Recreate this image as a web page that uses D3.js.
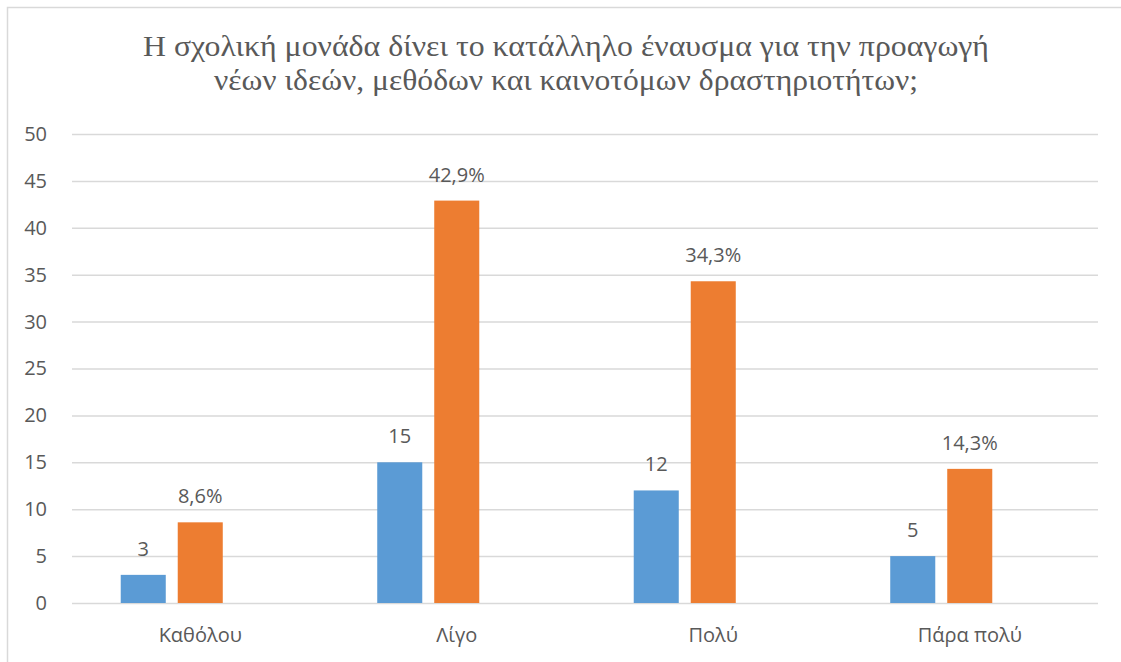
<!DOCTYPE html>
<html>
<head>
<meta charset="utf-8">
<script src="https://cdn.jsdelivr.net/npm/d3@7"></script>
<style>
	body { margin: 0; background: #fff; }
	svg { display: block; }
</style>
</head>
<body>
<div id="chart"></div>
<script>
// Chart data
const categories = ["Καθόλου", "Λίγο", "Πολύ", "Πάρα πολύ"];
const counts = [3, 15, 12, 5];
const percents = [8.6, 42.9, 34.3, 14.3];
// third slot is an empty series kept by the original chart
const seriesKeys = ["count", "percent", "empty"];
const yTicks = [0, 5, 10, 15, 20, 25, 30, 35, 40, 45, 50];
const titleLines = [
	"Η σχολική μονάδα δίνει το κατάλληλο έναυσμα για την προαγωγή",
	"νέων ιδεών, μεθόδων και καινοτόμων δραστηριοτήτων;"
];
const titleWidths = [846, 704];

const width = 1121, height = 662;
const margin = { left: 72, right: 23, top: 134, bottom: 59 };
const textColor = "#595959";
const gridColor = "#d9d9d9";
const colors = { count: "#5b9bd5", percent: "#ed7d31" };
const labelFont = "'Open Sans', 'Liberation Sans', sans-serif";

const svg = d3.select("#chart").append("svg")
	.attr("width", width)
	.attr("height", height);

// chart frame
svg.append("rect")
	.attr("x", 7.5).attr("y", 7.5)
	.attr("width", width + 10).attr("height", height + 10)
	.attr("fill", "none")
	.attr("stroke", gridColor)
	.attr("stroke-width", 1.5);

// title
svg.append("text")
	.attr("text-anchor", "middle")
	.attr("font-family", "'Liberation Serif', 'Times New Roman', serif")
	.attr("font-size", 29)
	.attr("fill", textColor)
	.selectAll("tspan")
	.data(titleLines)
	.join("tspan")
	.attr("x", 566)
	.attr("y", (d, i) => 56 + i * 34)
	.attr("textLength", (d, i) => titleWidths[i])
	.attr("lengthAdjust", "spacingAndGlyphs")
	.text(d => d);

const y = d3.scaleLinear().domain([0, 50]).range([height - margin.bottom, margin.top]);
const x0 = d3.scaleBand().domain(categories)
	.range([margin.left, width - margin.right])
	.paddingInner(0.38).paddingOuter(0.19);
const x1 = d3.scaleBand().domain(seriesKeys)
	.range([0, x0.bandwidth()])
	.paddingInner(0.21);

// gridlines + y labels
const yAxis = svg.append("g")
	.attr("transform", `translate(${margin.left},0)`)
	.call(d3.axisLeft(y).tickValues(yTicks).tickSize(-(width - margin.left - margin.right)).tickPadding(25));
yAxis.select(".domain").remove();
yAxis.selectAll(".tick line").attr("stroke", gridColor).attr("stroke-width", 1.5);
yAxis.selectAll(".tick text")
	.attr("fill", textColor)
	.attr("font-family", labelFont)
	.attr("font-size", 20);

// x labels
const xAxis = svg.append("g")
	.attr("transform", `translate(0,${height - margin.bottom})`)
	.call(d3.axisBottom(x0).tickSize(0).tickPadding(25));
xAxis.select(".domain").remove();
xAxis.selectAll(".tick text")
	.attr("fill", textColor)
	.attr("font-family", labelFont)
	.attr("font-size", 20);

const rows = categories.map((c, i) => ({
	category: c,
	values: [
		{ key: "count", value: counts[i], label: String(counts[i]) },
		{ key: "percent", value: percents[i], label: d3.format(".1f")(percents[i]).replace(".", ",") + "%" }
	]
}));

const groups = svg.append("g").selectAll("g")
	.data(rows)
	.join("g")
	.attr("transform", d => `translate(${x0(d.category)},0)`);

groups.selectAll("rect")
	.data(d => d.values)
	.join("rect")
	.attr("x", d => x1(d.key))
	.attr("width", x1.bandwidth())
	.attr("y", d => y(d.value))
	.attr("height", d => y(0) - y(d.value))
	.attr("fill", d => colors[d.key]);

groups.selectAll("text")
	.data(d => d.values)
	.join("text")
	.attr("x", d => x1(d.key) + x1.bandwidth() / 2)
	.attr("y", d => y(d.value) - 19)
	.attr("text-anchor", "middle")
	.attr("fill", textColor)
	.attr("font-family", labelFont)
	.attr("font-size", 20)
	.text(d => d.label);
</script>
</body>
</html>
